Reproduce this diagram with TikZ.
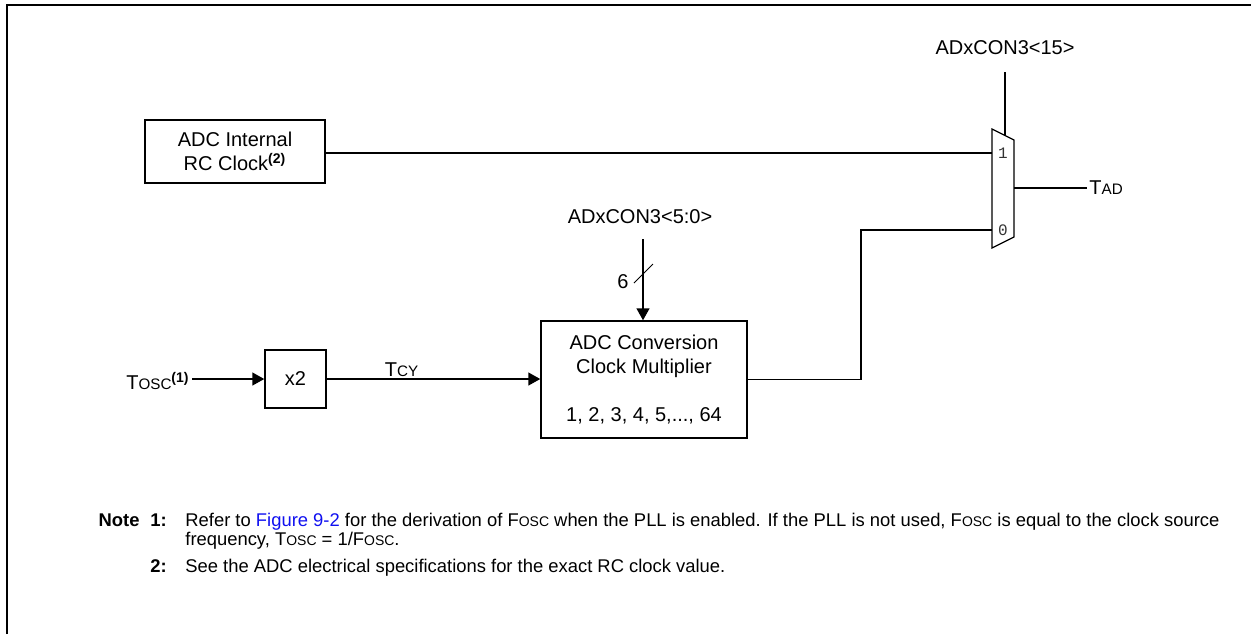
\documentclass[tikz,border=0pt]{standalone}
\usepackage{fontspec}
\setmainfont{Liberation Sans}
\newfontfamily\monofont{Liberation Mono}
\usetikzlibrary{arrows.meta,positioning}
\definecolor{lk}{HTML}{1010F0}
\definecolor{pg}{HTML}{333333}
\makeatletter
\newcommand{\lowcap}[1]{{\fontsize{\the\dimexpr0.76\dimexpr\f@size pt\relax\relax}{\f@baselineskip}\selectfont #1}}
\makeatother
\newcommand{\fn}[1]{\textsuperscript{\textbf{(#1)}}}

\begin{document}
\begin{tikzpicture}[
    x=0.5pt, y=-0.5pt,
    blk/.style={draw, line width=0.75pt, align=center, inner sep=0pt,
                font=\fontsize{10}{12}\selectfont},
    wire/.style={line width=0.75pt},
    ar/.style={wire, -{Triangle[length=6pt,width=6.5pt]}},
    lab/.style={font=\fontsize{10}{12}\selectfont, inner sep=1pt},
    port/.style={font=\monofont\fontsize{8}{9}\selectfont, text=pg, inner sep=0pt},
    note/.style={font=\fontsize{9.2}{11}\selectfont, anchor=base west, inner sep=0pt},
    nnum/.style={note, font=\fontsize{9.2}{11}\selectfont\bfseries}
]
\useasboundingbox (0,0) rectangle (1251,634);
\draw[line width=1pt] (6.5,634) -- (6.5,4.5) -- (1251,4.5);

% blocks
\node[blk, minimum width=90pt, minimum height=31.5pt] (rc) at (235,151.5)
     {ADC Internal\\RC Clock\fn{2}};
\node[blk, minimum width=30.5pt, minimum height=29pt] (x2) at (295.5,379) {x2};
\node[blk, minimum width=103pt, minimum height=58.5pt] (mult) at (644,379.5)
     {ADC Conversion\\Clock Multiplier\\[12pt]1, 2, 3, 4, 5,..., 64};

% multiplexer
\draw[line width=0.6pt] (992,129) -- (1014,140) -- (1014,237) -- (992,248) -- cycle;
\coordinate (in1) at (992,153);
\coordinate (in0) at (992,230);
\coordinate (sel) at (1005,135.5);
\coordinate (out) at (1014,188);
\node[port] (p1) at (1003,153) {1};
\node[port] (p0) at (1003,230) {0};

% labels
\node[lab] (sel15) at (1005,48) {ADxCON3<15>};
\coordinate (sel15end) at (1005,72);
\node[lab, anchor=west] (tad) at (1087,188) {T\lowcap{AD}};
\node[lab, anchor=east] (tosc) at (192,381) {T\lowcap{OSC}\fn{1}};
\node[lab] (sel50) at (640,217) {ADxCON3<5:0>};
\coordinate (bus) at (643,239);
\coordinate (cut) at (643.5,273.5);
\node[lab] (width) at (623,282) {6};
\coordinate (jog) at (861,230);

% connectors
\draw[wire] (rc.east |- in1) -- (in1);
\draw[wire] (sel15end) -- (sel);
\draw[wire] (out) -- (tad.west);
\draw[ar] (tosc.east |- x2.west) -- (x2.west);
\draw[ar] (x2.east) -- node[lab, above, pos=0.35] (tcy) {T\lowcap{CY}} (mult.west |- x2.east);
\draw[ar] (bus) -- (bus |- mult.north);
\draw[line width=0.5pt] ([shift={(-9.5,9.5)}]cut) -- ([shift={(9.5,-9.5)}]cut);
\draw[wire] (mult.east) -| (jog) -- (in0);

% notes
\node[nnum, anchor=base east] (nh) at (140,526) {Note};
\node[nnum] (n1) at (150,526) {1:};
\node[note] (t1) at (185,526) {Refer to \textcolor{lk}{Figure 9-2} for the derivation of F\lowcap{OSC} when the PLL is enabled. If the PLL is not used, F\lowcap{OSC} is equal to the clock source};
\node[note] (t1b) at (185,545) {frequency, T\lowcap{OSC} = 1/F\lowcap{OSC}.};
\node[nnum] (n2) at (150,572) {2:};
\node[note] (t2) at (185,572) {See the ADC electrical specifications for the exact RC clock value.};
\end{tikzpicture}
\end{document}
